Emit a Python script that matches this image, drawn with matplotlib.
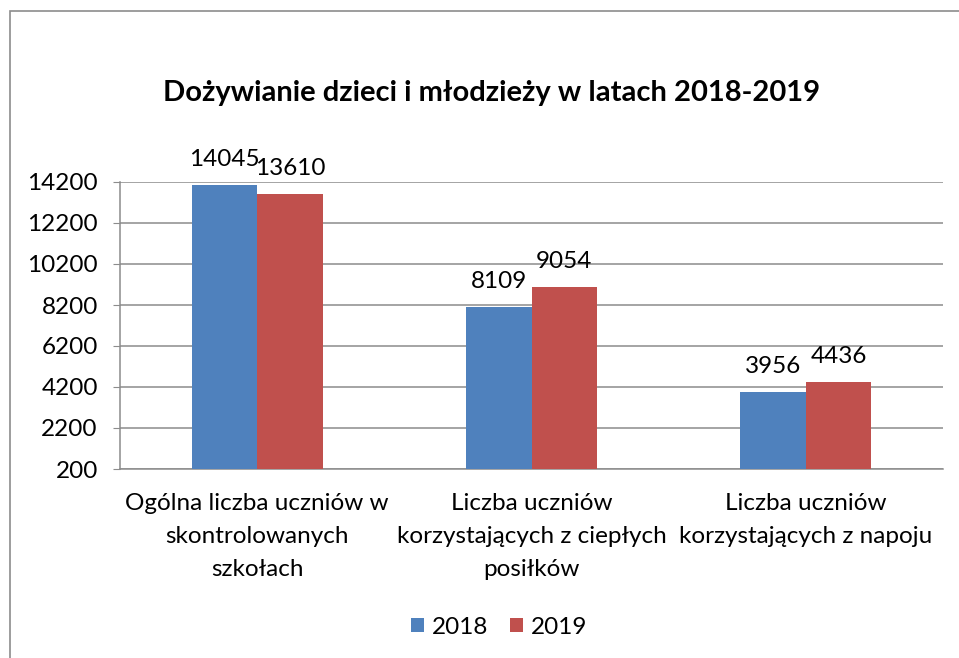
import numpy as np
import matplotlib.pyplot as plt
from matplotlib.patches import Rectangle

# Data
categories = ["Ogólna liczba uczniów w\nskontrolowanych\nszkołach",
              "Liczba uczniów\nkorzystających z ciepłych\nposiłków",
              "Liczba uczniów\nkorzystających z napoju"]
years = ["2018", "2019"]
values_2018 = [14045, 8109, 3956]
values_2019 = [13610, 9054, 4436]
y_ticks = [200, 2200, 4200, 6200, 8200, 10200, 12200, 14200]

plt.rcParams['font.family'] = ['Lato', 'DejaVu Sans']
FS = 17.5

fig = plt.figure(figsize=(9.59, 6.58), dpi=100)
W, H = 959, 658
ax = fig.add_axes([120 / W, 1 - 469 / H, (943 - 120) / W, (469 - 182) / H])

# chart border (extends past the right and bottom edges)
fig.patches.append(Rectangle((10 / W, -0.1), 1.2, 1 - 11 / H + 0.1,
                             transform=fig.transFigure, fill=False,
                             edgecolor="#8c8c8c", linewidth=1.2))

x = np.arange(len(categories))
w = 0.239
b1 = ax.bar(x - w / 2, np.array(values_2018) - 200, w, bottom=200,
            color="#4F81BD", label=years[0], zorder=3)
b2 = ax.bar(x + w / 2, np.array(values_2019) - 200, w, bottom=200,
            color="#C0504D", label=years[1], zorder=3)

for bars, vals in ((b1, values_2018), (b2, values_2019)):
    for r, v in zip(bars, vals):
        ax.annotate(str(v), (r.get_x() + r.get_width() / 2, v),
                    xytext=(0, 18.5), textcoords="offset points",
                    ha="center", va="center", fontsize=FS)

ax.set_xlim(-0.5, 2.5)
ax.set_ylim(200, 14200)
ax.set_yticks(y_ticks)
ax.set_yticklabels([str(t) for t in y_ticks], fontsize=FS)
ax.set_xticks(x)
ax.set_xticklabels(categories, fontsize=FS, linespacing=1.72, va="top")
ax.tick_params(axis="x", length=0, pad=17)
ax.tick_params(axis="y", length=5, color="#8c8c8c", pad=11)
ax.grid(axis="y", color="#8c8c8c", linewidth=1.1, zorder=0)
for s in ["top", "right"]:
    ax.spines[s].set_visible(False)
for s in ["left", "bottom"]:
    ax.spines[s].set_color("#8c8c8c")
    ax.spines[s].set_linewidth(1.1)

fig.text(492 / W, 1 - 93 / H, "Dożywianie dzieci i młodzieży w latach 2018-2019",
         ha="center", va="center", fontsize=21, fontweight="bold")

fig.legend(loc="center", bbox_to_anchor=(499 / W, 1 - 627 / H), ncol=2,
           frameon=False, fontsize=FS, handlelength=0.55, handleheight=0.55,
           handletextpad=0.3, columnspacing=0.9)

plt.savefig("out.png", dpi=100)
